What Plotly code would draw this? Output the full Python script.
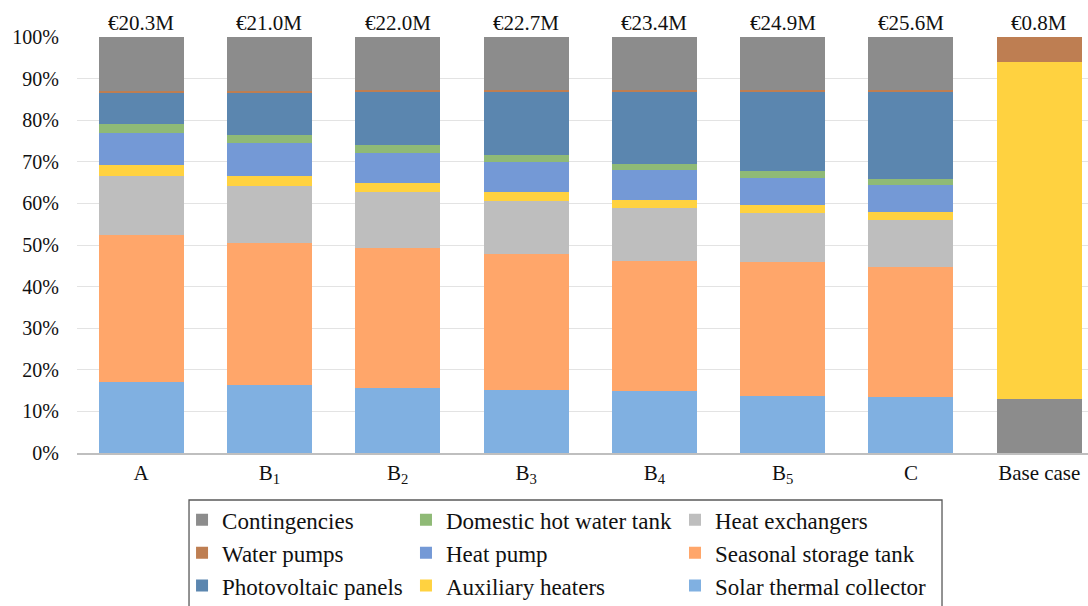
import plotly.graph_objects as go

# Share of total investment cost per component (%), per scenario
categories = ["A", "B<sub>1</sub>", "B<sub>2</sub>", "B<sub>3</sub>", "B<sub>4</sub>",
              "B<sub>5</sub>", "C", "Base case"]
total_cost_meur = [20.3, 21.0, 22.0, 22.7, 23.4, 24.9, 25.6, 0.8]

solar_thermal = [17.0, 16.3, 15.7, 15.1, 14.8, 13.8, 13.5, 0.0]
seasonal_storage = [35.3, 34.1, 33.7, 32.7, 31.4, 32.1, 31.1, 0.0]
heat_exchangers = [14.3, 13.9, 13.3, 12.7, 12.8, 11.8, 11.5, 0.0]
auxiliary_heaters = [2.6, 2.3, 2.3, 2.2, 1.8, 2.0, 1.9, 81.1]
heat_pump = [7.8, 7.9, 7.2, 7.3, 7.3, 6.5, 6.4, 0.0]
dhw_tank = [2.0, 2.0, 1.8, 1.7, 1.4, 1.6, 1.5, 0.0]
pv_panels = [7.6, 10.1, 13.0, 15.3, 17.5, 19.2, 21.1, 0.0]
water_pumps = [0.4, 0.4, 0.3, 0.3, 0.3, 0.3, 0.3, 6.0]
contingencies = [13.0, 13.0, 12.7, 12.7, 12.7, 12.7, 12.7, 12.9]
# in the base case the contingencies sit at the bottom of the stack
contingency_first = [False, False, False, False, False, False, False, True]

FONT = "Liberation Serif, Times New Roman, serif"
TXT = "#111111"

colors = {
    "Contingencies": "#8C8C8C",
    "Water pumps": "#BE7E52",
    "Photovoltaic panels": "#5B86AF",
    "Domestic hot water tank": "#8FBA76",
    "Heat pump": "#7499D6",
    "Auxiliary heaters": "#FFD240",
    "Heat exchangers": "#BEBEBE",
    "Seasonal storage tank": "#FFA66A",
    "Solar thermal collector": "#80B0E1",
}

cont_bottom = [v if f else None for v, f in zip(contingencies, contingency_first)]
cont_top = [None if f else v for v, f in zip(contingencies, contingency_first)]

# (name, values, legend column, rank in column, show in legend), bottom -> top
stack = [
    ("Contingencies", cont_bottom, "legend", 1, False),
    ("Solar thermal collector", solar_thermal, "legend3", 3, True),
    ("Seasonal storage tank", seasonal_storage, "legend3", 2, True),
    ("Heat exchangers", heat_exchangers, "legend3", 1, True),
    ("Auxiliary heaters", auxiliary_heaters, "legend2", 3, True),
    ("Heat pump", heat_pump, "legend2", 2, True),
    ("Domestic hot water tank", dhw_tank, "legend2", 1, True),
    ("Photovoltaic panels", pv_panels, "legend", 3, True),
    ("Water pumps", water_pumps, "legend", 2, True),
    ("Contingencies", cont_top, "legend", 1, True),
]

fig = go.Figure()
for name, vals, leg, rank, show in stack:
    fig.add_trace(go.Bar(
        x=categories, y=vals, name=name,
        marker=dict(color=colors[name], line=dict(width=0)),
        legend=leg, legendrank=rank, legendgroup=name, showlegend=show,
        hoverinfo="skip",
    ))

# cost totals above each bar
for cat, tot in zip(categories, total_cost_meur):
    fig.add_annotation(
        x=cat, y=1, xref="x", yref="paper", yanchor="middle", yshift=14,
        text=f"€{tot:.1f}M", showarrow=False,
        font=dict(family=FONT, size=21, color=TXT),
    )

# frame around the legend block
fig.add_shape(type="rect", xref="paper", yref="paper",
              x0=0.1108, x1=0.8556, y0=-0.113, y1=-0.6,
              line=dict(color="#595959", width=1.3), fillcolor="rgba(0,0,0,0)")

legend_common = dict(
    orientation="v", traceorder="normal", yanchor="top", xanchor="left",
    y=-0.109, bgcolor="rgba(0,0,0,0)", borderwidth=0,
    font=dict(family=FONT, size=23, color=TXT), itemclick=False,
)

fig.update_layout(
    width=1088, height=606,
    margin=dict(l=77, r=0, t=37, b=153, autoexpand=False),
    barmode="stack", bargap=0.337,
    paper_bgcolor="white", plot_bgcolor="white",
    font=dict(family=FONT, size=20, color=TXT),
    xaxis=dict(
        range=[-0.5, 7.38], showgrid=False, showline=True,
        linecolor="#BFBFBF", linewidth=1.5, ticks="",
        tickfont=dict(family=FONT, size=21, color=TXT),
    ),
    yaxis=dict(
        range=[0, 100], dtick=10, ticksuffix="%", showgrid=True,
        gridcolor="#E3E3E3", gridwidth=1.2, zeroline=False, showline=False,
        ticks="", ticklabelstandoff=17,
        tickfont=dict(family=FONT, size=20, color=TXT),
    ),
    legend=dict(x=0.1039, **legend_common),
    legend2=dict(x=0.3254, **legend_common),
    legend3=dict(x=0.5915, **legend_common),
    showlegend=True,
)

fig.write_html("out.html")
